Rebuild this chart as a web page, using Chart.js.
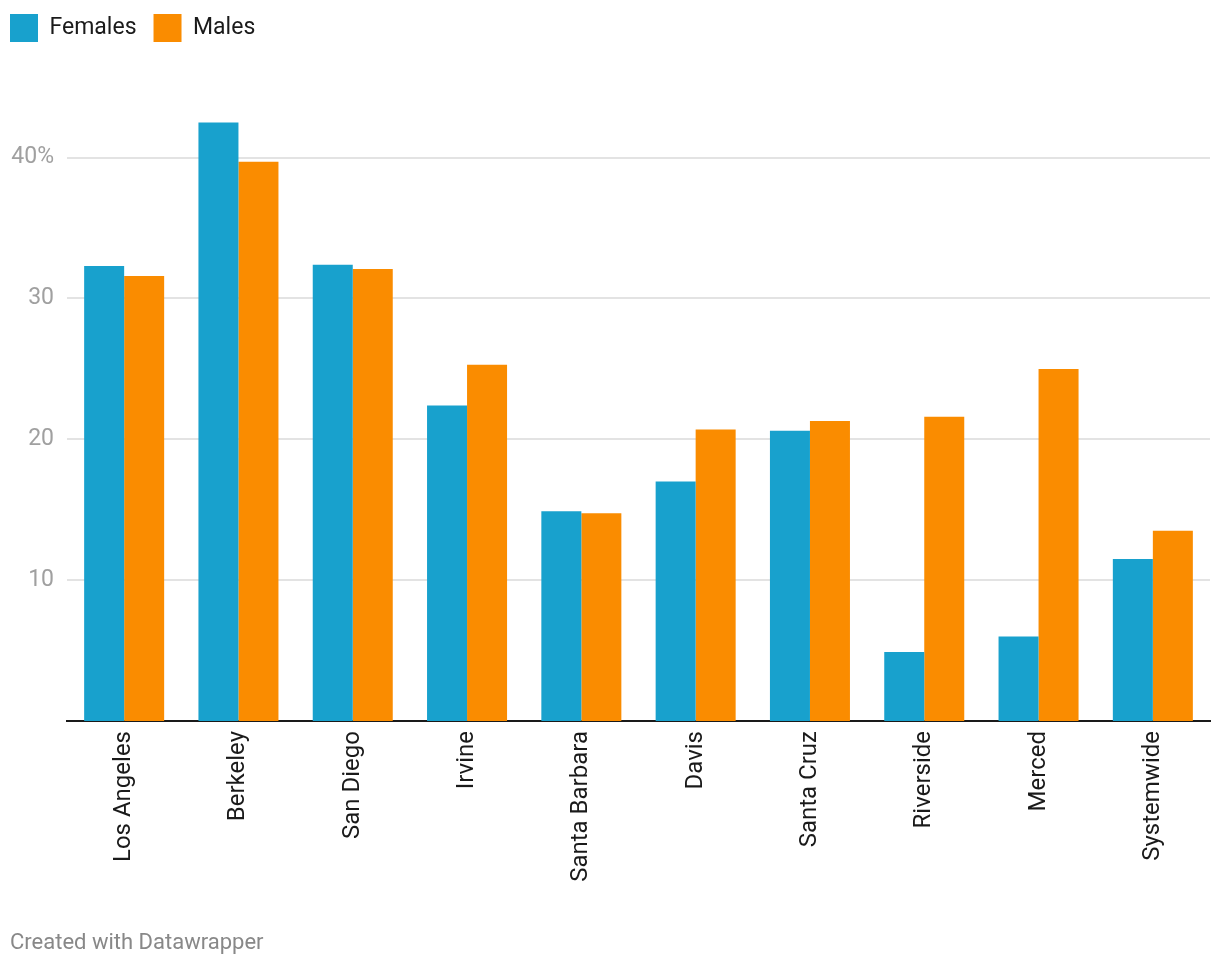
<!DOCTYPE html>
<html>
<head>
<meta charset="utf-8">
<script src="https://cdn.jsdelivr.net/npm/chart.js@4.4.1/dist/chart.umd.min.js"></script>
<style>
  html, body { margin: 0; padding: 0; background: #fff; }
  #wrap { position: relative; width: 1220px; height: 966px; }
  #footer { position: absolute; left: 10px; top: 929px; font-family: Roboto, sans-serif; font-size: 22px; color: #888; }
</style>
</head>
<body>
<div id="wrap">
  <canvas id="c"></canvas>
  <div id="footer">Created with Datawrapper</div>
</div>
<script>
const categories = ["Los Angeles", "Berkeley", "San Diego", "Irvine", "Santa Barbara", "Davis", "Santa Cruz", "Riverside", "Merced", "Systemwide"];
const females = [32.3, 42.5, 32.4, 22.4, 14.9, 17.0, 20.6, 4.9, 6.0, 11.5];
const males   = [31.6, 39.7, 32.1, 25.3, 14.75, 20.7, 21.3, 21.6, 25.0, 13.5];
const yTicks = [10, 20, 30, 40];

Chart.defaults.font.family = "Roboto, sans-serif";

new Chart(document.getElementById('c'), {
  type: 'bar',
  data: {
    labels: categories,
    datasets: [
      { label: 'Females', data: females, backgroundColor: '#18a1cd', borderWidth: 0 },
      { label: 'Males', data: males, backgroundColor: '#fa8c00', borderWidth: 0 }
    ]
  },
  options: {
    responsive: true,
    maintainAspectRatio: false,
    animation: false,
    devicePixelRatio: 1,
    categoryPercentage: 0.7,
    barPercentage: 1.0,
    layout: { padding: { top: -3, left: -7, right: 10, bottom: 0 } },
    plugins: {
      tooltip: { enabled: false },
      legend: {
        position: 'top',
        align: 'start',
        labels: {
          boxWidth: 28,
          boxHeight: 28,
          padding: 17,
          color: '#1a1a1a',
          font: { size: 23 }
        }
      }
    },
    scales: {
      x: {
        grid: { display: false, drawTicks: false },
        border: { display: true, color: '#1a1a1a', width: 2 },
        ticks: {
          minRotation: 90, maxRotation: 90,
          padding: 10,
          color: '#1a1a1a',
          font: { size: 24 },
          autoSkip: false
        },
        afterFit: function(scale) { scale.height = 245; }
      },
      y: {
        min: 0,
        max: 47.5,
        grid: { color: '#e3e3e3', lineWidth: 2, drawTicks: false },
        border: { display: false },
        ticks: {
          padding: 13,
          color: '#a0a0a0',
          font: { size: 23 },
          callback: function(v) { return v === 40 ? '40%' : String(v); }
        },
        afterBuildTicks: function(scale) {
          scale.ticks = yTicks.map(v => ({ value: v }));
        },
        afterFit: function(scale) { scale.width = 74; }
      }
    }
  }
});
</script>
</body>
</html>
